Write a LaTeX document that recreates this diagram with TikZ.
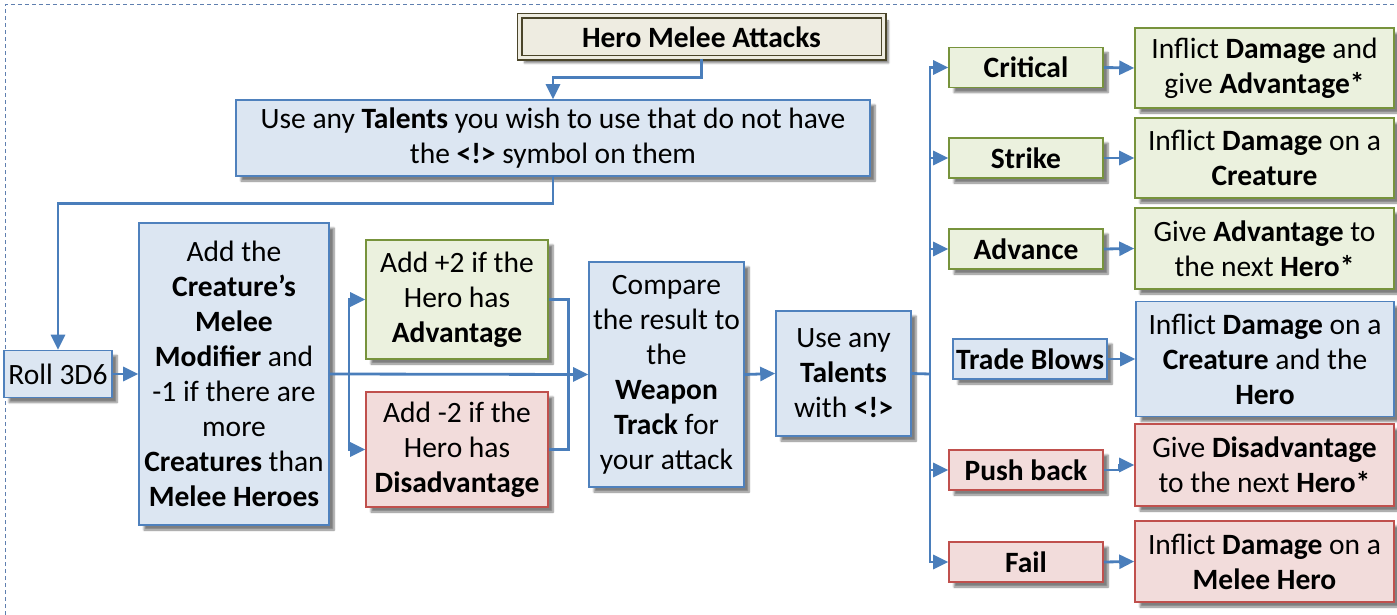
\documentclass[tikz,border=0pt]{standalone}
\usepackage{fontspec}
\setmainfont{Carlito}
\usetikzlibrary{arrows.meta,shadows,shadows.blur}

\definecolor{bluefill}{HTML}{DCE6F2}
\definecolor{blueline}{HTML}{4F81BD}
\definecolor{greenfill}{HTML}{EBF1DE}
\definecolor{greenline}{HTML}{77933C}
\definecolor{redfill}{HTML}{F2DCDB}
\definecolor{redline}{HTML}{C0504D}
\definecolor{titlefill}{HTML}{EEECE1}
\definecolor{titleline}{HTML}{4A452A}
\definecolor{wire}{HTML}{4A7EBB}
\definecolor{framecol}{HTML}{5F7FAF}

\tikzset{
  box/.style={rectangle, line width=1.6pt, inner sep=0pt, align=center,
    font=\fontsize{29.5}{35}\selectfont,
    blur shadow={shadow xshift=5pt, shadow yshift=-5pt, shadow opacity=50, shadow blur steps=6}},
  bluebox/.style={box, draw=blueline, fill=bluefill},
  greenbox/.style={box, draw=greenline, fill=greenfill},
  redbox/.style={box, draw=redline, fill=redfill},
  titlebox/.style={box, draw=titleline, fill=titlefill, double=titlefill, double distance=3pt, line width=1.5pt},
  wireline/.style={draw=wire, line width=2.8pt},
  arr/.style={wireline, -{Triangle[length=15pt,width=14pt]}},
}

\begin{document}
\begin{tikzpicture}[x=1pt,y=-1pt]
  \useasboundingbox (0,0) rectangle (1397,615);
  % frame
  \draw[framecol, line width=1pt, dash pattern=on 4pt off 3pt]
    (5,615) -- (5,5) -- (1397,5);

  % header and first step
  \node[titlebox, minimum width=364, minimum height=42] (title) at (701.5,37) {\textbf{Hero Melee Attacks}};
  \node[bluebox, minimum width=634, minimum height=76] (pre) at (553,138)
    {Use any \textbf{Talents} you wish to use that do not have\\the \textbf{<!>} symbol on them};

  % left part
  \node[bluebox, minimum width=108, minimum height=47] (roll) at (58,374) {Roll 3D6};
  \node[bluebox, minimum width=190, minimum height=302] (mod) at (234,374)
    {Add the\\\textbf{Creature’s}\\\textbf{Melee}\\\textbf{Modifier} and\\-1 if there are\\more\\\textbf{Creatures} than\\\textbf{Melee Heroes}};
  \node[greenbox, minimum width=182, minimum height=119] (adv) at (457,299.5)
    {Add +2 if the\\Hero has\\\textbf{Advantage}};
  \node[redbox, minimum width=182, minimum height=115] (dis) at (457,449.5)
    {Add -2 if the\\Hero has\\\textbf{Disadvantage}};
  \node[bluebox, minimum width=155, minimum height=225] (cmp) at (666.5,374.5)
    {Compare\\the result to\\the\\\textbf{Weapon}\\\textbf{Track} for\\your attack};
  \node[bluebox, minimum width=135, minimum height=125] (post) at (843.5,373.5)
    {Use any\\\textbf{Talents}\\with \textbf{<!>}};

  % outcomes
  \node[greenbox, minimum width=154, minimum height=40] (crit) at (1026,67.5) {\textbf{Critical}};
  \node[greenbox, minimum width=154, minimum height=40] (strike) at (1026,158) {\textbf{Strike}};
  \node[greenbox, minimum width=154, minimum height=40] (advance) at (1026,249) {\textbf{Advance}};
  \node[bluebox, minimum width=154, minimum height=40] (trade) at (1030,359) {\textbf{Trade Blows}};
  \node[redbox, minimum width=154, minimum height=40] (push) at (1026,470) {\textbf{Push back}};
  \node[redbox, minimum width=154, minimum height=40] (fail) at (1026,562) {\textbf{Fail}};

  % effects
  \node[greenbox, minimum width=259, minimum height=80] (e1) at (1264.5,68)
    {Inflict \textbf{Damage} and\\give \textbf{Advantage*}};
  \node[greenbox, minimum width=259, minimum height=80] (e2) at (1264.5,158)
    {Inflict \textbf{Damage} on a\\\textbf{Creature}};
  \node[greenbox, minimum width=259, minimum height=81] (e3) at (1264.5,248.5)
    {Give \textbf{Advantage} to\\the next \textbf{Hero*}};
  \node[bluebox, minimum width=258, minimum height=115] (e4) at (1265,359)
    {Inflict \textbf{Damage} on a\\\textbf{Creature} and the\\\textbf{Hero}};
  \node[redbox, minimum width=259, minimum height=82] (e5) at (1264.5,465)
    {Give \textbf{Disadvantage}\\to the next \textbf{Hero*}};
  \node[redbox, minimum width=259, minimum height=81] (e6) at (1264.5,561.5)
    {Inflict \textbf{Damage} on a\\\textbf{Melee Hero}};

  % connectors
  \draw[arr] (title.south) -- ++(0,19) -| (pre.north);
  \draw[arr] (pre.south) -- ++(0,27) -| (roll.north);
  \draw[arr] (roll.east) -- (mod.west);
  \draw[arr] (mod.east) -- (cmp.west);
  \coordinate (split) at (349,374);
  \draw[arr] (split) |- (adv.west);
  \draw[arr] (split) |- (dis.west);
  \draw[wireline] (adv.east) -- ++(20,0) |- (dis.east);
  \draw[arr] (cmp.east) -- (post.west);

  \coordinate (bus) at (930,374);
  \draw[wireline] (post.east) -- (bus);
  \draw[arr] (bus) |- (crit.west);
  \draw[arr] (bus) |- (strike.west);
  \draw[arr] (bus) |- (advance.west);
  \draw[arr] (bus) |- (push.west);
  \draw[arr] (bus) |- (fail.west);

  \draw[arr] (crit.east) -- (e1.west);
  \draw[arr] (strike.east) -- (e2.west);
  \draw[arr] (advance.east) -- (e3.west);
  \draw[arr] (trade.east) -- (e4.west);
  \draw[arr] (push.east) -- ++(16,0) |- (e5.west);
  \draw[arr] (fail.east) -- (e6.west);
\end{tikzpicture}
\end{document}
